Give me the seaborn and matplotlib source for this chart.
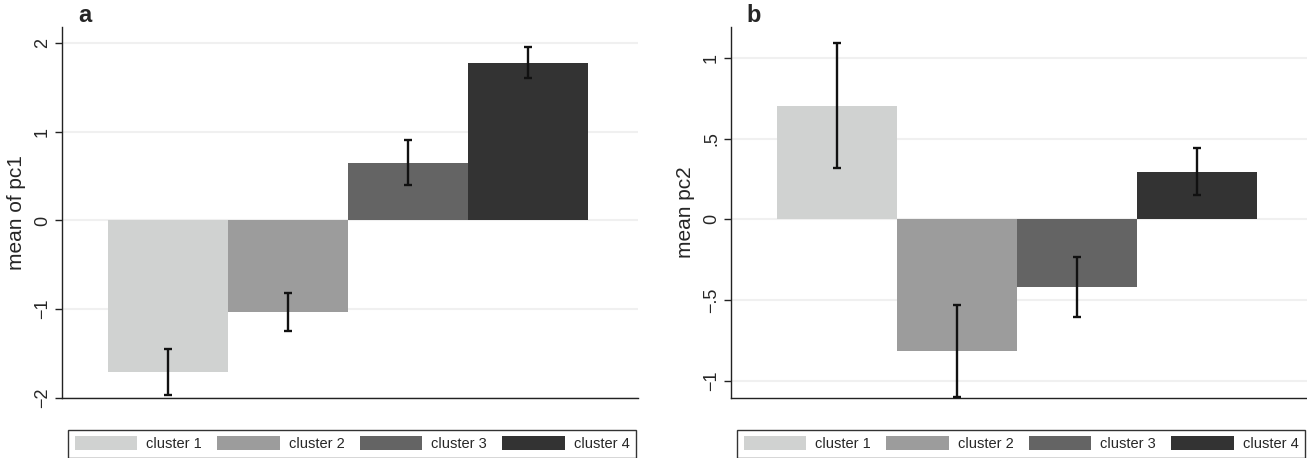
import matplotlib
matplotlib.use("Agg")
import matplotlib.pyplot as plt
from matplotlib.patches import Patch
import seaborn as sns
import numpy as np
import pandas as pd

clusters = ["cluster 1", "cluster 2", "cluster 3", "cluster 4"]
colors = ["#d0d2d1", "#9c9c9c", "#646464", "#333333"]

pc1_mean = [-1.71, -1.03, 0.65, 1.78]
pc1_low = [-1.97, -1.25, 0.40, 1.60]
pc1_high = [-1.45, -0.82, 0.91, 1.95]

pc2_mean = [0.70, -0.817, -0.42, 0.296]
pc2_low = [0.315, -1.10, -0.607, 0.152]
pc2_high = [1.09, -0.53, -0.235, 0.442]

pc1_ticks = [-2, -1, 0, 1, 2]
pc1_ticklabels = ["\u22122", "\u22121", "0", "1", "2"]
pc2_ticks = [-1, -0.5, 0, 0.5, 1]
pc2_ticklabels = ["\u22121", "\u2212.5", "0", ".5", "1"]

sns.set_style("white")
plt.rcParams["font.family"] = ["Liberation Sans", "DejaVu Sans"]

fig = plt.figure(figsize=(13.07, 4.58), dpi=100)
W, H = 1307, 458
axA = fig.add_axes([62 / W, 1 - 398 / H, 576 / W, 371 / H])
axB = fig.add_axes([731 / W, 1 - 398 / H, 576 / W, 371 / H])


def panel(ax, means, low, high, ticks, ticklabels, ylim, ylabel, labelx):
    df = pd.DataFrame({"cluster": clusters, "mean": means})
    sns.barplot(data=df, x="cluster", y="mean", hue="cluster", palette=colors,
                width=1.0, legend=False, ax=ax, saturation=1, linewidth=0,
                zorder=2)
    m = np.array(means)
    pos = np.arange(len(clusters))
    ax.errorbar(pos, m, yerr=[m - np.array(low), np.array(high) - m],
                fmt="none", ecolor="#111111", elinewidth=1.7, capsize=2.8,
                capthick=1.7, zorder=3)
    ax.set_xlim(-0.883, 3.917)
    ax.set_ylim(*ylim)
    ax.set_yticks(ticks)
    ax.set_yticklabels(ticklabels, rotation=90, va="center", fontsize=13)
    ax.set_xticks([])
    ax.set_xlabel("")
    ax.set_ylabel(ylabel, fontsize=15)
    ax.yaxis.set_label_coords(labelx, 0.5)
    for t in ticks:
        ax.axhline(t, color="#f0f0f0", lw=1.5, zorder=0)
    for s in ["top", "right"]:
        ax.spines[s].set_visible(False)
    for s in ["left", "bottom"]:
        ax.spines[s].set_color("#222222")
        ax.spines[s].set_linewidth(1.0)
    ax.tick_params(axis="y", which="both", left=True, length=5, width=1,
                   color="#222222", pad=3)
    ax.grid(False)
    handles = [Patch(facecolor=c, edgecolor="none", label=l)
               for c, l in zip(colors, clusters)]
    leg = ax.legend(handles=handles, loc="upper left",
                    bbox_to_anchor=(0.0104, -0.6, 0.986, 0.514),
                    mode="expand", ncol=4, frameon=True, fancybox=False,
                    edgecolor="black", fontsize=10.5, handlelength=4.3,
                    handleheight=1.1, borderaxespad=0, borderpad=0.45,
                    handletextpad=0.6)
    leg.get_frame().set_linewidth(1.0)


panel(axA, pc1_mean, pc1_low, pc1_high, pc1_ticks, pc1_ticklabels,
      (-2.0, 2.18), "mean of pc1", -0.062)
panel(axB, pc2_mean, pc2_low, pc2_high, pc2_ticks, pc2_ticklabels,
      (-1.105, 1.19), "mean pc2", -0.062)

fig.text(78 / W, 1 - 15 / H, "a", fontsize=17, fontweight="bold",
         ha="left", va="center")
fig.text(746 / W, 1 - 15 / H, "b", fontsize=17, fontweight="bold",
         ha="left", va="center")

fig.savefig("out.png", dpi=100)
